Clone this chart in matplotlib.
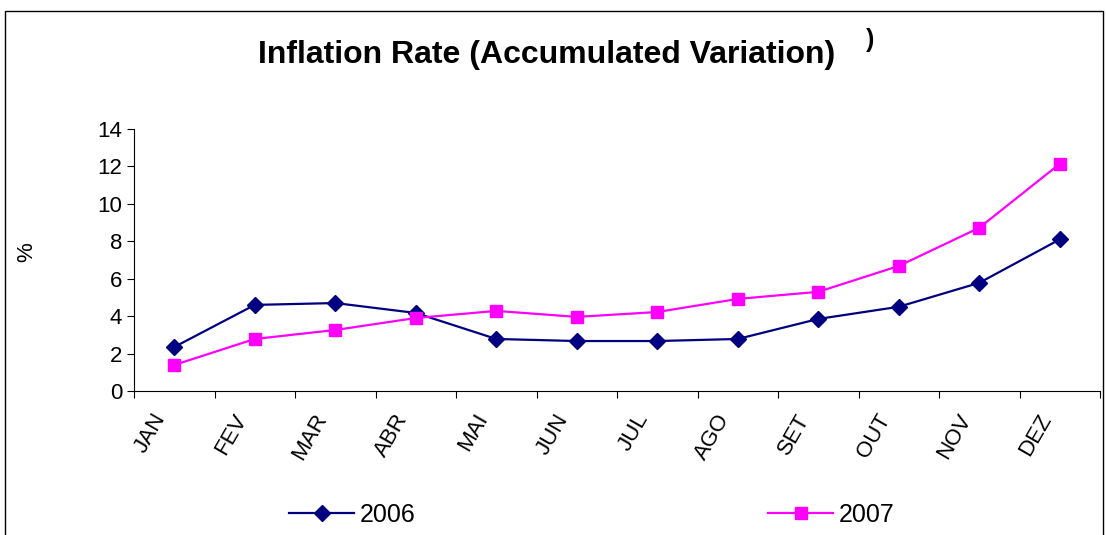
import numpy as np
import matplotlib.pyplot as plt
import matplotlib.transforms as mtransforms
from matplotlib.lines import Line2D

plt.rcParams['font.family'] = ['Liberation Sans', 'DejaVu Sans']

months = ['JAN', 'FEV', 'MAR', 'ABR', 'MAI', 'JUN', 'JUL', 'AGO', 'SET', 'OUT', 'NOV', 'DEZ']
infl_2006 = [2.35, 4.6, 4.7, 4.17, 2.78, 2.67, 2.67, 2.78, 3.85, 4.5, 5.78, 8.1]
infl_2007 = [1.39, 2.78, 3.26, 3.9, 4.28, 3.96, 4.22, 4.92, 5.3, 6.68, 8.72, 12.14]
yticks = [0, 2, 4, 6, 8, 10, 12, 14]

W, H = 1106, 535
fig = plt.figure(figsize=(W / 100, H / 100), dpi=100)
ax = fig.add_axes([134 / W, 1 - 391 / H, (1100 - 134) / W, (391 - 129) / H])

x = np.arange(len(months))
ax.plot(x, infl_2006, color='#000080', lw=1.6, marker='D', ms=8, label='2006')
ax.plot(x, infl_2007, color='#FF00FF', lw=1.6, marker='s', ms=9, label='2007')

ax.set_xlim(-0.5, len(months) - 0.5)
ax.set_ylim(0, 14)
ax.set_yticks(yticks)
ax.set_xticks(np.arange(len(months) + 1) - 0.5)
ax.set_xticklabels([])
ax.tick_params(axis='x', length=5, direction='out')
ax.tick_params(axis='y', labelsize=16, length=5, direction='out')
ax.spines['top'].set_visible(False)
ax.spines['right'].set_visible(False)

# month labels, rotated, slightly left of the category centre
trans = ax.get_xaxis_transform() + mtransforms.ScaledTranslation(-4 / 100, -19 / 100, fig.dpi_scale_trans)
for xi, m in zip(x, months):
    ax.text(xi, 0, m, transform=trans, rotation=60, ha='right', va='top', fontsize=16)

ax.set_ylabel('%', fontsize=16)
ax.yaxis.set_label_coords(-0.100, 0.53)

fig.text(547 / W, 1 - 55 / H, 'Inflation Rate (Accumulated Variation)', ha='center', va='center',
         fontsize=23, fontweight='bold')
fig.text(870 / W, 1 - 40 / H, ')', ha='center', va='center', fontsize=18, fontweight='bold')

# border of the chart area
fig.add_artist(Line2D([5 / W, 5 / W, 1103 / W, 1103 / W], [0, 1 - 11 / H, 1 - 11 / H, 0],
                      color='black', lw=1, transform=fig.transFigure))

fig.legend(loc='center', bbox_to_anchor=(592 / W, 1 - 515 / H), ncol=2, frameon=False,
           fontsize=18, handlelength=2.6, handletextpad=0.24, columnspacing=14.1)

fig.savefig('out.png', dpi=100)
